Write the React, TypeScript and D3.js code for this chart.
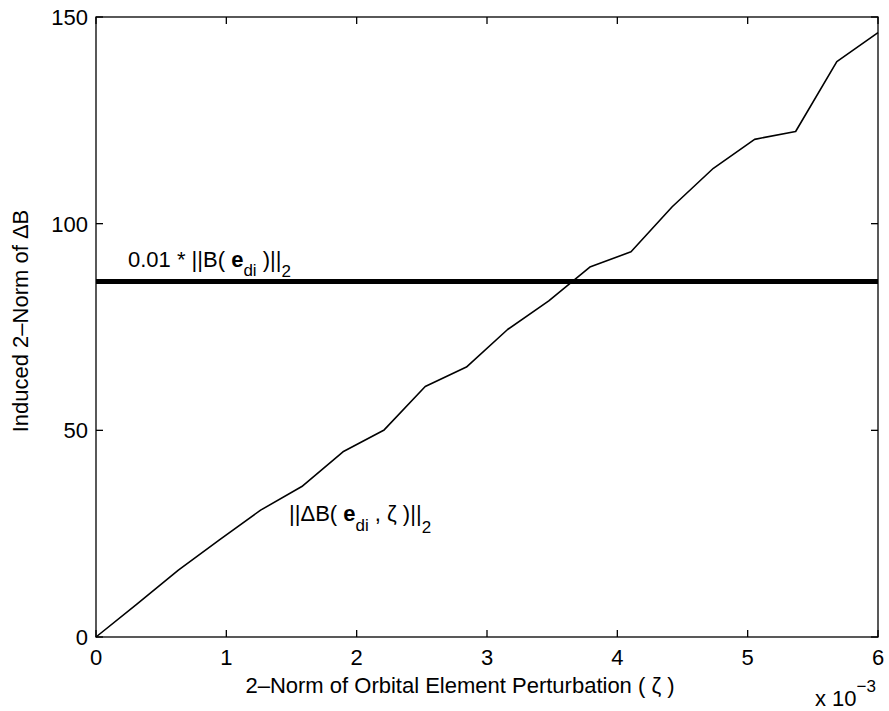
import React from "react";
import * as d3 from "d3";

const xTicks = [0, 1, 2, 3, 4, 5, 6];
const yTicks = [0, 50, 100, 150];
// x values in units of 1e-3
const xValues = [0, 0.316, 0.632, 0.947, 1.263, 1.579, 1.895, 2.211, 2.526, 2.842, 3.158, 3.474, 3.789, 4.105, 4.421, 4.737, 5.053, 5.368, 5.684, 6.0];
const normDeltaB = [0, 8.0, 16.2, 23.5, 30.7, 36.4, 44.8, 50.1, 60.6, 65.3, 74.4, 81.3, 89.5, 93.2, 104.1, 113.4, 120.4, 122.3, 139.2, 146.2];
const thresholdValue = 86.0;

const W = 889;
const H = 711;
const M = { left: 96, right: 878, top: 17, bottom: 637 };
const FONT = "'Liberation Sans', Arial, Helvetica, sans-serif";

export default function App() {
  const x = d3.scaleLinear().domain([0, 6]).range([M.left, M.right]);
  const y = d3.scaleLinear().domain([0, 150]).range([M.bottom, M.top]);
  const line = d3
    .line<number>()
    .x((_, i) => x(xValues[i]))
    .y((d) => y(d));
  const tl = 7;
  const fs = 22;
  const sub = 17;
  return (
    <svg
      width={W}
      height={H}
      style={{ position: "absolute", left: 0, top: 0, background: "#fff" }}
      fontFamily={FONT}
    >
      <rect x={0} y={0} width={W} height={H} fill="#fff" />
      {/* data line */}
      <path d={line(normDeltaB) || ""} fill="none" stroke="#000" strokeWidth={1.6} strokeLinejoin="round" />
      {/* threshold line */}
      <line x1={x(0)} x2={x(6)} y1={y(thresholdValue)} y2={y(thresholdValue)} stroke="#000" strokeWidth={5} />
      {/* box */}
      <rect x={M.left} y={M.top} width={M.right - M.left} height={M.bottom - M.top} fill="none" stroke="#000" strokeWidth={1.3} />
      {/* x ticks */}
      {xTicks.map((t) => (
        <g key={"x" + t}>
          <line x1={x(t)} x2={x(t)} y1={M.bottom} y2={M.bottom - tl} stroke="#000" strokeWidth={1.3} />
          <line x1={x(t)} x2={x(t)} y1={M.top} y2={M.top + tl} stroke="#000" strokeWidth={1.3} />
          <text x={x(t)} y={665} textAnchor="middle" fontSize={fs} fill="#000">
            {t}
          </text>
        </g>
      ))}
      {/* y ticks */}
      {yTicks.map((t) => (
        <g key={"y" + t}>
          <line x1={M.left} x2={M.left + tl} y1={y(t)} y2={y(t)} stroke="#000" strokeWidth={1.3} />
          <line x1={M.right} x2={M.right - tl} y1={y(t)} y2={y(t)} stroke="#000" strokeWidth={1.3} />
          <text x={88} y={y(t)} dy="0.36em" textAnchor="end" fontSize={fs} fill="#000">
            {t}
          </text>
        </g>
      ))}
      {/* x axis label */}
      <text x={460} y={693} textAnchor="middle" fontSize={fs} fill="#000">
        2–Norm of Orbital Element Perturbation ( ζ )
      </text>
      {/* exponent */}
      <text x={815} y={706} fontSize={fs} fill="#000">
        x 10
        <tspan dy={-14} fontSize={sub}>−3</tspan>
      </text>
      {/* y axis label */}
      <text
        transform={`translate(28, 321) rotate(-90)`}
        textAnchor="middle"
        fontSize={fs}
        fill="#000"
      >
        Induced 2–Norm of ΔB
      </text>
      {/* threshold annotation */}
      <text x={128} y={267} fontSize={fs} fill="#000">
        0.01 * ||B(
        <tspan fontWeight="bold"> e</tspan>
        <tspan dy={9} fontSize={sub}>di</tspan>
        <tspan dy={-9}> )||</tspan>
        <tspan dy={10} fontSize={sub}>2</tspan>
      </text>
      {/* curve annotation */}
      <text x={289} y={521} fontSize={fs} fill="#000">
        ||ΔB(
        <tspan fontWeight="bold"> e</tspan>
        <tspan dy={10} fontSize={sub}>di</tspan>
        <tspan dy={-10}> , ζ )||</tspan>
        <tspan dy={12} fontSize={sub}>2</tspan>
      </text>
    </svg>
  );
}
